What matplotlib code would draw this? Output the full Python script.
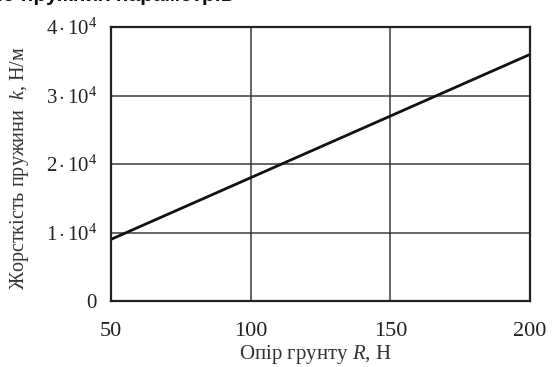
import matplotlib
matplotlib.use("Agg")
import matplotlib.pyplot as plt

R = [50, 200]
k = [9000, 36000]
xticks = [50, 100, 150, 200]
yticks = [0, 10000, 20000, 30000, 40000]
ytick_labels = ["0", r"$1\,{\cdot}\,10^4$", r"$2\,{\cdot}\,10^4$", r"$3\,{\cdot}\,10^4$", r"$4\,{\cdot}\,10^4$"]

plt.rcParams['font.family'] = ['Liberation Serif', 'DejaVu Serif']
plt.rcParams['mathtext.fontset'] = 'custom'
plt.rcParams['mathtext.rm'] = 'Liberation Serif'
plt.rcParams['mathtext.it'] = 'Liberation Serif:italic'

fig = plt.figure(figsize=(5.57, 3.67), dpi=100)
ax = fig.add_axes([111/557, 1 - 301/367, (530 - 111)/557, (301 - 27)/367])

ax.plot(R, k, color='#111111', lw=2.0, solid_capstyle='butt')
ax.set_xlim(50, 200)
ax.set_ylim(0, 40000)
ax.set_xticks(xticks)
ax.set_xticklabels([str(v) for v in xticks], fontsize=16, color='#222222')
ax.set_yticks(yticks)
ax.set_yticklabels(ytick_labels, fontsize=15, color='#222222')
ax.tick_params(axis='x', length=0, pad=15)
ax.tick_params(axis='y', length=0, pad=10)
ax.grid(True, color='#3a3a3a', lw=1.1)
for s in ax.spines.values():
    s.set_color('#222222')
    s.set_linewidth(1.6)

fig.text(315/557, 1 - 354/367, r"Опір грунту $R$, Н", fontsize=15, color='#333333',
         ha='center', va='center')
fig.text(20/557, 1 - 168/367, r"Жорсткість пружини  $k$, Н/м", fontsize=14.5, color='#333333',
         ha='center', va='center', rotation=90)

fig.text(-0.005, 1.012, "ю пружних параметрів", fontsize=15, fontweight='bold',
         family=['Liberation Sans', 'DejaVu Sans'], va='center', ha='left', color='#111111')

fig.savefig("out.png", dpi=100, facecolor='white')
